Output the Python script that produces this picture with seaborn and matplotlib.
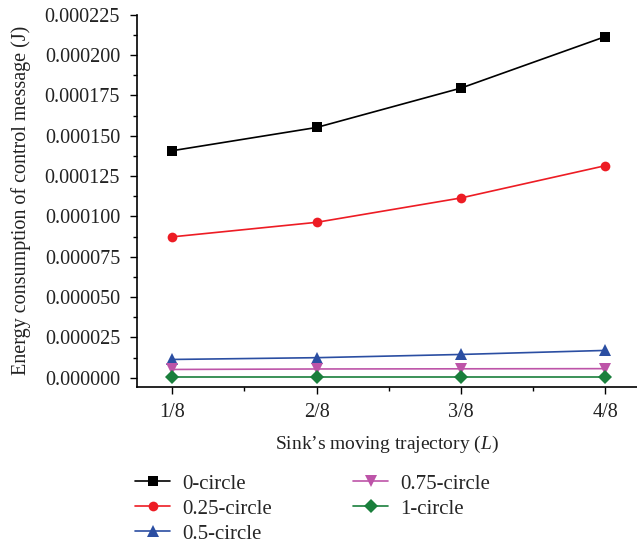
import numpy as np
import pandas as pd
import matplotlib
matplotlib.use("Agg")
import matplotlib.pyplot as plt
import seaborn as sns
from matplotlib.ticker import MultipleLocator, FormatStrFormatter, FixedLocator

# ---- data ----
x_positions = [1, 2, 3, 4]
x_labels = ["1/8", "2/8", "3/8", "4/8"]
series_names = ["0-circle", "0.25-circle", "0.5-circle", "0.75-circle", "1-circle"]
circle_0 = [0.0001407, 0.0001551, 0.0001795, 0.0002114]
circle_025 = [0.0000873, 0.0000963, 0.0001114, 0.0001314]
circle_05 = [0.0000113, 0.0000124, 0.0000144, 0.0000169]
circle_075 = [0.0000051, 0.0000054, 0.0000055, 0.0000056]
circle_1 = [0.0000002, 0.0000002, 0.0000002, 0.0000002]

colors = ["#000000", "#ed1c24", "#2b4ea2", "#bd54a8", "#1a7f3c"]
markers = ["s", "o", "^", "v", "D"]
marker_sizes = [6.5, 7, 8.5, 8.5, 7]

rows = []
for name, vals in zip(series_names, [circle_0, circle_025, circle_05, circle_075, circle_1]):
    for xp, v in zip(x_positions, vals):
        rows.append({"x": xp, "y": v, "series": name})
df = pd.DataFrame(rows)

sns.set_theme(style="ticks")
plt.rcParams["font.family"] = ["Liberation Serif", "DejaVu Serif"]
plt.rcParams["mathtext.fontset"] = "custom"
plt.rcParams["mathtext.rm"] = "Liberation Serif"
plt.rcParams["mathtext.it"] = "Liberation Serif:italic"

fig = plt.figure(figsize=(6.37, 5.48), dpi=100)
ax = fig.add_axes([0.2146, 0.2943, 0.7854, 0.6789])

sns.lineplot(data=df, x="x", y="y", hue="series", style="series",
             hue_order=series_names, style_order=series_names,
             palette=colors, markers=markers, dashes=False,
             markersize=7, linewidth=1.2, markeredgewidth=0,
             ax=ax, legend=True)

# per-series marker sizes (lines and legend handles)
size_map = dict(zip(series_names, marker_sizes))
for line in ax.lines:
    lbl = line.get_label()
    if lbl in size_map:
        line.set_markersize(size_map[lbl])
color_map = dict(zip(colors, marker_sizes))
for line in ax.lines:
    c = matplotlib.colors.to_hex(line.get_color())
    if c in color_map:
        line.set_markersize(color_map[c])

ax.set_xlim(0.753, 4.22)
ax.set_ylim(-0.0000056, 0.000225)
ax.xaxis.set_major_locator(FixedLocator(x_positions))
ax.set_xticklabels(x_labels)
ax.xaxis.set_minor_locator(MultipleLocator(0.5))
ax.yaxis.set_major_locator(MultipleLocator(0.000025))
ax.yaxis.set_minor_locator(MultipleLocator(0.0000125))
ax.yaxis.set_major_formatter(FormatStrFormatter("%.6f"))
ax.tick_params(axis="both", which="major", length=5, width=1, labelsize=14.5,
               color="black", labelcolor="#222222", direction="out", pad=7)
ax.tick_params(axis="both", which="minor", length=3, width=1, color="black", direction="out")
for s in ["top", "right"]:
    ax.spines[s].set_visible(False)
for s in ["left", "bottom"]:
    ax.spines[s].set_color("black")
    ax.spines[s].set_linewidth(1.2)

ax.set_xlabel("Sink\u2019s moving trajectory ($\\mathit{L}$)", fontsize=14, color="#222222", labelpad=8)
ax.set_ylabel("Energy consumption of control message (J)", fontsize=14.5, color="#222222", labelpad=10)

handles, labels = ax.get_legend_handles_labels()
for h, l in zip(handles, labels):
    if l in size_map:
        h.set_markersize(size_map[l])
ax.legend(handles, labels, loc="upper left", bbox_to_anchor=(0.212, 0.135),
          bbox_transform=fig.transFigure, ncol=2,
          frameon=False, fontsize=15, handlelength=1.7, handletextpad=0.55,
          columnspacing=3.9, labelspacing=0.26, borderpad=0, borderaxespad=0)

fig.savefig("out.png", dpi=100)
